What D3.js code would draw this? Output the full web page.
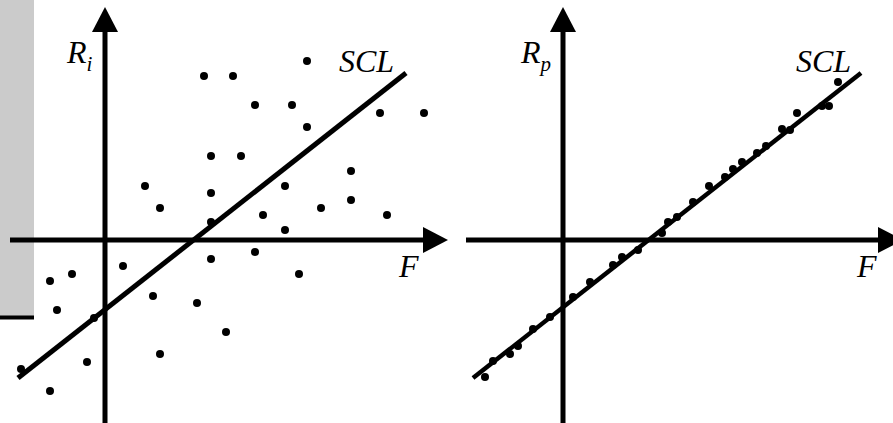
<!DOCTYPE html>
<html>
<head>
<meta charset="utf-8">
<script src="https://cdn.jsdelivr.net/npm/d3@7"></script>
<style>
  html, body { margin: 0; padding: 0; background: #fff; }
  svg { display: block; }
  text { font-family: "Liberation Serif", "Times New Roman", serif; font-style: italic; fill: #000; }
</style>
</head>
<body>
<svg id="chart" width="893" height="423"></svg>
<script>
// ---- Data (arbitrary units: F on x, return on y; origin at the axes crossing) ----
// Left panel: individual security returns R_i vs factor F
const securityF = [20.2, 9.9, 12.8, 15.0, 18.7, 27.5, 31.9, 20.2, 10.6, 13.6, 24.6, 4.0, 10.6, 18.0, 5.5, 24.6, 21.6, 15.8, 28.2, 10.6, 18.0, 15.0, 10.6, 1.8, -3.3, -5.5, 19.4, 4.8, 9.2, -4.8, -1.1, 12.1, 5.5, -1.8, -8.4, -5.5];
const securityR = [17.9, 16.4, 16.4, 13.5, 13.5, 12.7, 12.7, 11.3, 8.4, 8.4, 6.9, 5.4, 4.7, 5.4, 3.2, 4.0, 3.2, 2.5, 2.5, 1.8, 1.0, -1.2, -1.9, -2.6, -3.4, -4.1, -3.4, -5.6, -6.3, -7.0, -7.8, -9.2, -11.4, -12.2, -12.9, -15.1];
// Right panel: portfolio returns R_p vs factor F
const portfolioF = [-7.8, -7.0, -5.3, -4.5, -3.0, -1.3, 1.0, 2.7, 5.0, 5.9, 7.5, 9.9, 10.5, 11.4, 13.0, 14.6, 16.2, 17.0, 17.9, 19.4, 20.3, 21.9, 22.7, 23.4, 25.9, 26.6, 27.5];
const portfolioR = [-13.7, -12.1, -11.4, -10.6, -8.9, -7.7, -5.7, -4.2, -2.5, -1.7, -1.0, 0.7, 1.8, 2.3, 3.8, 5.4, 6.3, 7.1, 7.8, 8.7, 9.4, 11.1, 11.0, 12.7, 13.4, 13.4, 15.8];
// Security characteristic lines (end points in data units)
const sclLeftF = [-8.7, 30.1];
const sclLeftR = [-13.8, 16.7];
const sclRightF = [-9.0, 29.8];
const sclRightR = [-13.8, 16.7];
// Axis extents (data units)
const axisFLeft = [-9.5, 34.3];
const axisFRight = [-9.7, 34.0];
const axisR = [-18.5, 23.3];
// Labels
const yLabels = [["R", "i"], ["R", "p"]];
const lineLabel = "SCL";
const xLabel = "F";

const svg = d3.select("#chart");

// Decorative grey block at left edge
svg.append("rect").attr("x", 0).attr("y", 0).attr("width", 34).attr("height", 316).attr("fill", "#cbcbcb");
svg.append("line").attr("x1", 0).attr("x2", 34).attr("y1", 317.5).attr("y2", 317.5)
  .attr("stroke", "#000").attr("stroke-width", 4);

const yScale = d3.scaleLinear().domain([-20, 25]).range([440, -10]);

function panel(x0, Fs, Rs, lineF, lineR, axisF, label, lineW, labelX, sclX) {
  const xScale = d3.scaleLinear().domain([-10, 35]).range([x0 - 100, x0 + 350]);
  const g = svg.append("g");
  const ox = xScale(0), oy = yScale(0);
  const arrowLen = 25, arrowHalf = 13;
  // x axis
  const xEnd = xScale(axisF[1]);
  g.append("line").attr("x1", xScale(axisF[0])).attr("x2", xEnd - arrowLen + 2)
    .attr("y1", oy).attr("y2", oy).attr("stroke", "#000").attr("stroke-width", 5);
  g.append("path").attr("d", `M${xEnd},${oy} L${xEnd - arrowLen},${oy - arrowHalf} L${xEnd - arrowLen},${oy + arrowHalf} Z`).attr("fill", "#000");
  // y axis
  const yTop = yScale(axisR[1]);
  g.append("line").attr("x1", ox).attr("x2", ox)
    .attr("y1", yScale(axisR[0])).attr("y2", yTop + arrowLen - 2).attr("stroke", "#000").attr("stroke-width", 5);
  g.append("path").attr("d", `M${ox},${yTop} L${ox - arrowHalf},${yTop + arrowLen} L${ox + arrowHalf},${yTop + arrowLen} Z`).attr("fill", "#000");
  // SCL line
  g.append("line").attr("x1", xScale(lineF[0])).attr("y1", yScale(lineR[0]))
    .attr("x2", xScale(lineF[1])).attr("y2", yScale(lineR[1]))
    .attr("stroke", "#000").attr("stroke-width", lineW);
  // points
  g.selectAll("circle.pt").data(Fs.map((f, i) => [f, Rs[i]])).join("circle")
    .attr("class", "pt").attr("cx", d => xScale(d[0])).attr("cy", d => yScale(d[1]))
    .attr("r", 4).attr("fill", "#000");
  // labels
  const yl = g.append("text").attr("x", labelX).attr("y", 63).attr("font-size", 32);
  yl.append("tspan").text(label[0]);
  yl.append("tspan").attr("dy", 8).attr("font-size", 21).text(label[1]);
  g.append("text").attr("x", sclX).attr("y", 72).attr("font-size", 32).text(lineLabel);
  g.append("text").attr("x", xScale(29.4)).attr("y", 277).attr("font-size", 32).text(xLabel);
}

panel(105, securityF, securityR, sclLeftF, sclLeftR, axisFLeft, yLabels[0], 5, 67, 339);
panel(563, portfolioF, portfolioR, sclRightF, sclRightR, axisFRight, yLabels[1], 4.5, 521, 796);
</script>
</body>
</html>
